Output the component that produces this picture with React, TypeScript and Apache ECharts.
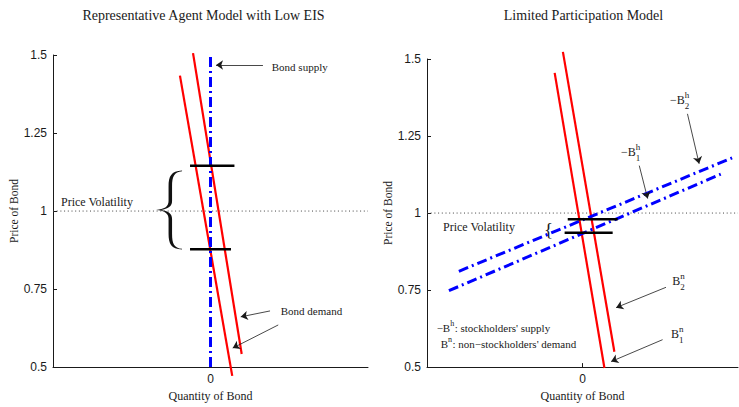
import React, { useEffect, useRef } from "react";
import * as echarts from "echarts";

// ---------------- data ----------------
const xRange = [-1, 1];
const yRange = [0.5, 1.5];
const yTickStep = 0.25;
const xTickValues = [0];
const volatilityLevel = 1;

// left panel: representative agent
const leftDemandA = [[-0.194, 1.434], [0.138, 0.472]];
const leftDemandB = [[-0.111, 1.506], [0.198, 0.542]];
const leftSupply = [[0, 0.5], [0, 1.5]];
const leftPriceHigh = [[-0.13, 1.145], [0.152, 1.145]];
const leftPriceLow = [[-0.13, 0.878], [0.13, 0.878]];

// right panel: limited participation
const rightDemand2 = [[-0.126, 1.523], [0.205, 0.55]];
const rightDemand1 = [[-0.179, 1.455], [0.141, 0.497]];
const rightSupply2 = [[-0.795, 0.811], [0.962, 1.179]];
const rightSupply1 = [[-0.859, 0.748], [0.889, 1.126]];
const rightPriceHigh = [[-0.095, 0.98], [0.226, 0.98]];
const rightPriceLow = [[-0.115, 0.936], [0.194, 0.936]];

// annotation arrows [from, to] in data coordinates
const leftArrows = [
  [[0.333, 1.468], [0.035, 1.468]],
  [[0.378, 0.68], [0.192, 0.661]],
  [[0.43, 0.635], [0.141, 0.561]],
];
const rightArrows = [
  [[0.365, 1.154], [0.419, 1.047]],
  [[0.675, 1.322], [0.75, 1.16]],
  [[0.537, 0.759], [0.216, 0.693]],
  [[0.515, 0.589], [0.184, 0.518]],
];

// texts
const titles = ["Representative Agent Model with Low EIS", "Limited Participation Model"];
const xName = "Quantity of Bond";
const yName = "Price of Bond";

type Seg = { t: string; k?: "sup" | "sub" };
type Note = { grid: number; at: number[]; size: number; segs: Seg[] };

const notes: Note[] = [
  { grid: 0, at: [-0.949, 1.036], size: 12, segs: [{ t: "Price Volatility" }] },
  { grid: 0, at: [0.389, 1.468], size: 11, segs: [{ t: "Bond supply" }] },
  { grid: 0, at: [0.446, 0.687], size: 11, segs: [{ t: "Bond demand" }] },
  { grid: 1, at: [-0.897, 0.963], size: 12, segs: [{ t: "Price Volatility" }] },
  { grid: 1, at: [0.248, 1.206], size: 12, segs: [{ t: "\u2212B" }, { t: "h", k: "sup" }, { t: "1", k: "sub" }] },
  { grid: 1, at: [0.562, 1.375], size: 12, segs: [{ t: "\u2212B" }, { t: "h", k: "sup" }, { t: "2", k: "sub" }] },
  { grid: 1, at: [0.577, 0.789], size: 12, segs: [{ t: "B" }, { t: "n", k: "sup" }, { t: "2", k: "sub" }] },
  { grid: 1, at: [0.569, 0.617], size: 12, segs: [{ t: "B" }, { t: "n", k: "sup" }, { t: "1", k: "sub" }] },
  { grid: 1, at: [-0.938, 0.634], size: 11, segs: [{ t: "\u2212B" }, { t: "h", k: "sup" }, { t: ": stockholders' supply" }] },
  { grid: 1, at: [-0.912, 0.583], size: 11, segs: [{ t: "B" }, { t: "n", k: "sup" }, { t: ": non\u2212stockholders' demand" }] },
];

const bigBrace = { grid: 0, u: -0.352, vTop: 1.13, vBottom: 0.877 };
const smallBrace = { grid: 1, at: [-0.247, 0.955], size: 19 };

// ---------------- styling ----------------
const serifFont = '"Liberation Serif", "Times New Roman", serif';
const sansFont = '"Liberation Sans", Arial, sans-serif';
const ink = "#1a1a1a";
const RED = "#ff0000";
const BLUE = "#0000ff";
const textBaselineShift = 2.5;

const braceD =
  "M27 0 C16 0.5 13.5 6 13.5 16 L13.5 31 C13.5 37 9 39.3 1 40 C9 40.7 13.5 43 13.5 49 L13.5 64 C13.5 74 16 79.5 27 80 " +
  "L27 79.3 C19 78.5 17 74 17 64 L17 49 C17 43.5 13 41 6 40 C13 39 17 36.5 17 31 L17 16 C17 6 19 1.5 27 0.7 Z";
echarts.graphic.registerShape("brace", echarts.graphic.extendPath(braceD, {}) as any);

function axesFor(grid: number) {
  const x = {
    type: "value",
    gridIndex: grid,
    min: xRange[0],
    max: xRange[1],
    axisLine: { show: true, onZero: false, lineStyle: { color: ink, width: 1 } },
    axisTick: { show: true, inside: true, length: 4, customValues: xTickValues, lineStyle: { color: ink } },
    axisLabel: { customValues: xTickValues, margin: 6, fontFamily: sansFont, fontSize: 12, color: ink },
    splitLine: { show: false },
    name: xName,
    nameLocation: "middle",
    nameGap: 20,
    nameTextStyle: { fontFamily: serifFont, fontSize: 12, color: ink },
  };
  const y = {
    type: "value",
    gridIndex: grid,
    min: yRange[0],
    max: yRange[1],
    interval: yTickStep,
    axisLine: { show: true, onZero: false, lineStyle: { color: ink, width: 1 } },
    axisTick: { show: true, inside: true, length: 4, lineStyle: { color: ink } },
    axisLabel: { margin: 6, fontFamily: sansFont, fontSize: 12, color: ink },
    splitLine: { show: false },
    name: yName,
    nameLocation: "middle",
    nameGap: grid === 0 ? 30 : 28,
    nameTextStyle: { fontFamily: serifFont, fontSize: 11.5, color: ink },
  };
  return { x, y };
}

function line(data: number[][], grid: number, color: string, width: number, type: any, z: number) {
  return {
    type: "line",
    xAxisIndex: grid,
    yAxisIndex: grid,
    data,
    symbol: "none",
    clip: false,
    silent: true,
    z,
    lineStyle: { color, width, type },
  };
}

function guide(grid: number, arrows: number[][][]) {
  return {
    ...line([[xRange[0], volatilityLevel], [xRange[1], volatilityLevel]], grid, "#444", 1, [1, 2.7], 1),
    markLine: {
      silent: true,
      symbol: ["none", "arrow"],
      symbolSize: 7,
      label: { show: false },
      lineStyle: { color: ink, width: 0.8, type: "solid" },
      data: arrows.map((a) => [{ coord: a[0] }, { coord: a[1] }]),
    },
  };
}

const dashDot = [10, 4, 2, 4];

function buildOption() {
  const a0 = axesFor(0);
  const a1 = axesFor(1);
  return {
    animation: false,
    backgroundColor: "#ffffff",
    grid: [
      { left: 53, top: 55, width: 315, height: 316 },
      { left: 427, top: 59, width: 311, height: 315 },
    ],
    xAxis: [a0.x, a1.x],
    yAxis: [a0.y, a1.y],
    series: [
      guide(0, leftArrows),
      line(leftDemandA, 0, RED, 2.2, "solid", 2),
      line(leftDemandB, 0, RED, 2.2, "solid", 2),
      line(leftSupply, 0, BLUE, 3, dashDot, 3),
      line(leftPriceHigh, 0, "#000", 2.5, "solid", 4),
      line(leftPriceLow, 0, "#000", 2.5, "solid", 4),
      guide(1, rightArrows),
      line(rightDemand2, 1, RED, 2.2, "solid", 2),
      line(rightDemand1, 1, RED, 2.2, "solid", 2),
      line(rightSupply2, 1, BLUE, 3, dashDot, 3),
      line(rightSupply1, 1, BLUE, 3, dashDot, 3),
      line(rightPriceHigh, 1, "#000", 2.5, "solid", 4),
      line(rightPriceLow, 1, "#000", 2.5, "solid", 4),
    ],
  };
}

function buildGraphics(chart: any) {
  const px = (g: number, p: number[]) => chart.convertToPixel({ gridIndex: g }, p) as number[];
  const ctx = document.createElement("canvas").getContext("2d") as CanvasRenderingContext2D;
  const measure = (t: string, size: number) => {
    ctx.font = `${size}px ${serifFont}`;
    return ctx.measureText(t).width;
  };
  const els: any[] = [];
  const gridCenters = [
    (px(0, [xRange[0], yRange[1]])[0] + px(0, [xRange[1], yRange[1]])[0]) / 2 - 7,
    (px(1, [xRange[0], yRange[1]])[0] + px(1, [xRange[1], yRange[1]])[0]) / 2 + 1,
  ];
  titles.forEach((t, i) => {
    els.push({
      type: "text",
      x: gridCenters[i],
      y: 15,
      silent: true,
      style: { text: t, font: `14px ${serifFont}`, fill: ink, align: "center", verticalAlign: "middle" },
    });
  });
  notes.forEach((n) => {
    const [x0, yRaw] = px(n.grid, n.at);
    const y0 = yRaw + textBaselineShift;
    let cx = x0;
    let lastSupX = x0;
    let lastSupW = 0;
    n.segs.forEach((s, i) => {
      const small = s.k ? Math.round(n.size * 0.72) : n.size;
      let x = cx;
      let dy = 0;
      if (s.k === "sup") dy = -n.size * 0.4;
      if (s.k === "sub") dy = n.size * 0.5;
      if (s.k === "sub" && i > 0 && n.segs[i - 1].k === "sup") x = lastSupX;
      const w = measure(s.t, small);
      els.push({
        type: "text",
        x,
        y: y0 + dy,
        silent: true,
        style: { text: s.t, font: `${small}px ${serifFont}`, fill: ink, align: "left", verticalAlign: "middle" },
      });
      if (s.k === "sup") {
        lastSupX = x;
        lastSupW = w;
        cx = x + w + 0.5;
      } else if (s.k === "sub" && x === lastSupX) {
        cx = x + Math.max(w, lastSupW) + 0.5;
      } else {
        cx = x + w;
      }
    });
  });
  const top = px(bigBrace.grid, [bigBrace.u, bigBrace.vTop]);
  const bot = px(bigBrace.grid, [bigBrace.u, bigBrace.vBottom]);
  els.push({
    type: "brace",
    x: top[0],
    y: top[1],
    scaleX: 1,
    scaleY: (bot[1] - top[1]) / 80,
    silent: true,
    style: { fill: "#111", stroke: "none" },
  });
  const sb = px(smallBrace.grid, smallBrace.at);
  els.push({
    type: "text",
    x: sb[0],
    y: sb[1] + textBaselineShift,
    silent: true,
    style: { text: "{", font: `${smallBrace.size}px ${serifFont}`, fill: ink, align: "left", verticalAlign: "middle" },
  });
  return els;
}

export default function App() {
  const ref = useRef<HTMLDivElement>(null);
  useEffect(() => {
    if (!ref.current) return;
    const chart = echarts.init(ref.current, null, { renderer: "svg" });
    chart.setOption(buildOption() as any);
    chart.setOption({ graphic: buildGraphics(chart) } as any);
    return () => chart.dispose();
  }, []);
  return (
    <div
      ref={ref}
      style={{ position: "fixed", left: 0, top: 0, width: 739, height: 407, background: "#fff" }}
    />
  );
}
